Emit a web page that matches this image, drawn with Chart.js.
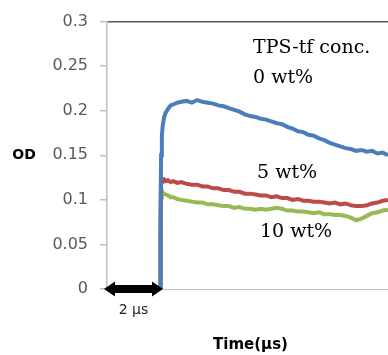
<!DOCTYPE html>
<html><head><meta charset="utf-8">
<script src="https://cdn.jsdelivr.net/npm/chart.js@4/dist/chart.umd.min.js"></script>
<style>html,body{margin:0;padding:0;background:#fff;overflow:hidden}#wrap{width:388px;height:355px}</style>
</head><body><div id="wrap"><canvas id="c" width="388" height="355"></canvas></div>
<script>
const time = [0, 1, 1.98, 2.0, 2.02, 2.04, 2.07, 2.1, 2.15, 2.2, 2.3, 2.4, 2.5, 2.65, 2.8, 3.0, 3.2, 3.4, 3.6, 3.8, 4.0, 4.2, 4.4, 4.6, 4.8, 5.0, 5.2, 5.4, 5.6, 5.8, 6.0, 6.2, 6.4, 6.6, 6.8, 7.0, 7.2, 7.4, 7.6, 7.8, 8.0, 8.2, 8.4, 8.6, 8.8, 9.0, 9.2, 9.4, 9.6, 9.8, 10.0, 10.2, 10.4, 10.6, 10.8];
const od0 = [0, 0, 0, 0, 0.09, 0.15, 0.172, 0.183, 0.192, 0.197, 0.202, 0.206, 0.207, 0.209, 0.210, 0.211, 0.209, 0.212, 0.210, 0.209, 0.208, 0.206, 0.205, 0.203, 0.201, 0.199, 0.196, 0.194, 0.193, 0.191, 0.190, 0.188, 0.186, 0.185, 0.182, 0.180, 0.177, 0.176, 0.173, 0.172, 0.169, 0.167, 0.164, 0.162, 0.160, 0.158, 0.157, 0.155, 0.156, 0.154, 0.155, 0.152, 0.153, 0.150, 0.151];
const od5 = [0, 0, 0, 0, 0.06, 0.124, 0.123, 0.122, 0.123, 0.121, 0.122, 0.120, 0.121, 0.119, 0.120, 0.118, 0.117, 0.117, 0.115, 0.115, 0.113, 0.113, 0.111, 0.111, 0.109, 0.109, 0.107, 0.107, 0.106, 0.105, 0.105, 0.103, 0.104, 0.102, 0.102, 0.100, 0.101, 0.099, 0.099, 0.098, 0.098, 0.097, 0.096, 0.097, 0.095, 0.096, 0.094, 0.093, 0.093, 0.094, 0.096, 0.097, 0.099, 0.100, 0.101];
const od10 = [0, 0, 0, 0, 0.05, 0.112, 0.110, 0.108, 0.107, 0.106, 0.105, 0.103, 0.103, 0.101, 0.100, 0.099, 0.098, 0.097, 0.097, 0.095, 0.095, 0.094, 0.093, 0.093, 0.091, 0.092, 0.090, 0.090, 0.089, 0.090, 0.089, 0.090, 0.091, 0.090, 0.088, 0.088, 0.087, 0.087, 0.086, 0.085, 0.086, 0.084, 0.084, 0.083, 0.083, 0.082, 0.080, 0.077, 0.079, 0.082, 0.085, 0.086, 0.088, 0.089, 0.090];
const seriesNames = ['0 wt%', '5 wt%', '10 wt%'];
const yTickLabels = ['0', '0.05', '0.1', '0.15', '0.2', '0.25', '0.3'];
const annTexts = ['TPS-tf conc.', '0 wt%', '5 wt%', '10 wt%'];
const annX = [5.51, 5.51, 5.66, 5.77];
const annY = [0.2643, 0.2308, 0.1249, 0.058];
const arrowSpan = [0, 2];
const arrowLabel = '2 μs';
const xTitle = 'Time(μs)';
const yTitle = 'OD';

const toPts = arr => time.map((t, i) => ({x: t, y: arr[i]}));

const textPlugin = {
  id: 'texts',
  afterDatasetsDraw(chart) {
    const {ctx, chartArea, scales: {x, y}} = chart;
    ctx.save();
    const y0 = y.getPixelForValue(0);
    const xa = x.getPixelForValue(arrowSpan[0]) - 3;
    const xb = x.getPixelForValue(arrowSpan[1]) + 3;
    const hl = 11, hh = 7.5, sh = 4;
    ctx.fillStyle = '#000';
    ctx.beginPath();
    ctx.moveTo(xa, y0);
    ctx.lineTo(xa + hl, y0 - hh);
    ctx.lineTo(xa + hl, y0 - sh);
    ctx.lineTo(xb - hl, y0 - sh);
    ctx.lineTo(xb - hl, y0 - hh);
    ctx.lineTo(xb, y0);
    ctx.lineTo(xb - hl, y0 + hh);
    ctx.lineTo(xb - hl, y0 + sh);
    ctx.lineTo(xa + hl, y0 + sh);
    ctx.lineTo(xa + hl, y0 + hh);
    ctx.closePath();
    ctx.fill();
    ctx.fillStyle = '#262626';
    ctx.font = '14px "DejaVu Sans"';
    ctx.textAlign = 'center';
    ctx.textBaseline = 'middle';
    ctx.fillText(arrowLabel, (x.getPixelForValue(arrowSpan[0]) + x.getPixelForValue(arrowSpan[1])) / 2, y0 + 21);
    ctx.fillStyle = '#000';
    ctx.font = 'bold 15px "DejaVu Sans"';
    ctx.fillText(xTitle, (chartArea.left + chartArea.right) / 2 + 3, chartArea.bottom + 56);
    ctx.font = 'bold 14px "DejaVu Sans"';
    ctx.fillText(yTitle, 24, y.getPixelForValue(0.15));
    ctx.font = '19px "DejaVu Serif"';
    ctx.textAlign = 'left';
    ctx.textBaseline = 'alphabetic';
    annTexts.forEach((t, i) => ctx.fillText(t, x.getPixelForValue(annX[i]), y.getPixelForValue(annY[i])));
    ctx.restore();
  }
};

new Chart(document.getElementById('c'), {
  type: 'line',
  data: {
    datasets: [
      {label: seriesNames[0], data: toPts(od0), borderColor: '#4A7EBB', borderWidth: 4, pointRadius: 0, tension: 0},
      {label: seriesNames[1], data: toPts(od5), borderColor: '#BE4B48', borderWidth: 4, pointRadius: 0, tension: 0},
      {label: seriesNames[2], data: toPts(od10), borderColor: '#98B954', borderWidth: 4, pointRadius: 0, tension: 0}
    ]
  },
  options: {
    responsive: false,
    animation: false,
    events: [],
    layout: {padding: {top: 20, right: 0, left: 0, bottom: 0}},
    plugins: {legend: {display: false}, tooltip: {enabled: false}},
    scales: {
      x: {
        type: 'linear', min: 0, max: 10.6,
        ticks: {display: false},
        grid: {display: false},
        border: {display: true, color: '#BFBFBF', width: 1},
        afterFit(s) { s.height = 66; }
      },
      y: {
        min: 0, max: 0.3,
        ticks: {
          stepSize: 0.05, padding: 12, color: '#595959',
          font: {family: '"DejaVu Sans"', size: 16},
          callback: (v) => yTickLabels[Math.round(v / 0.05)]
        },
        grid: {
          color: (c) => (c.tick && Math.abs(c.tick.value - 0.3) < 1e-9) ? '#595959' : 'rgba(0,0,0,0)',
          tickColor: '#BFBFBF', tickLength: 7, lineWidth: 1.5
        },
        border: {display: true, color: '#BFBFBF', width: 1.5},
        afterFit(s) { s.width = 107; }
      }
    }
  },
  plugins: [textPlugin]
});
</script></body></html>
